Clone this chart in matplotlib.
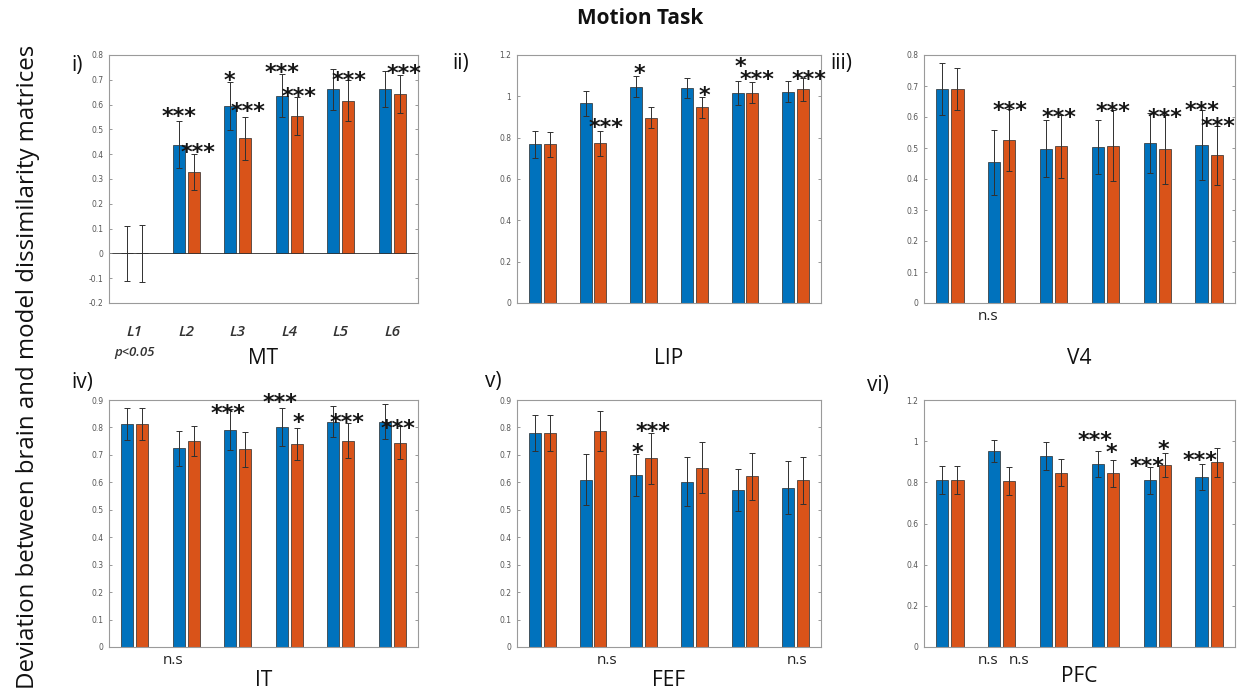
import numpy as np
import matplotlib
matplotlib.use("Agg")
import matplotlib.pyplot as plt
from matplotlib.ticker import FuncFormatter, MultipleLocator

# ---------------- data ----------------
groups = [1, 2, 3, 4, 5, 6]
mt_layers = ["L1", "L2", "L3", "L4", "L5", "L6"]

MT_blue = [0.0, 0.438, 0.595, 0.636, 0.662, 0.664]
MT_orange = [0.0, 0.329, 0.464, 0.554, 0.616, 0.642]
MT_blue_err = [0.110, 0.094, 0.098, 0.087, 0.082, 0.073]
MT_orange_err = [0.115, 0.072, 0.086, 0.076, 0.083, 0.077]

LIP_blue = [0.768, 0.966, 1.047, 1.042, 1.015, 1.023]
LIP_orange = [0.768, 0.772, 0.897, 0.946, 1.018, 1.034]
LIP_blue_err = [0.066, 0.060, 0.052, 0.049, 0.058, 0.050]
LIP_orange_err = [0.060, 0.061, 0.049, 0.050, 0.050, 0.057]

V4_blue = [0.690, 0.454, 0.498, 0.502, 0.516, 0.509]
V4_orange = [0.690, 0.526, 0.505, 0.508, 0.496, 0.476]
V4_blue_err = [0.083, 0.104, 0.093, 0.087, 0.097, 0.112]
V4_orange_err = [0.068, 0.099, 0.102, 0.115, 0.111, 0.095]

IT_blue = [0.813, 0.724, 0.791, 0.803, 0.821, 0.821]
IT_orange = [0.813, 0.752, 0.720, 0.739, 0.752, 0.745]
IT_blue_err = [0.059, 0.063, 0.075, 0.069, 0.057, 0.063]
IT_orange_err = [0.057, 0.055, 0.065, 0.058, 0.063, 0.060]

FEF_blue = [0.779, 0.609, 0.627, 0.602, 0.573, 0.581]
FEF_orange = [0.779, 0.788, 0.687, 0.654, 0.622, 0.607]
FEF_blue_err = [0.066, 0.093, 0.075, 0.089, 0.076, 0.098]
FEF_orange_err = [0.066, 0.073, 0.094, 0.094, 0.086, 0.086]

PFC_blue = [0.812, 0.953, 0.930, 0.891, 0.809, 0.825]
PFC_orange = [0.812, 0.805, 0.847, 0.843, 0.883, 0.898]
PFC_blue_err = [0.068, 0.053, 0.068, 0.063, 0.065, 0.063]
PFC_orange_err = [0.068, 0.068, 0.066, 0.066, 0.058, 0.071]

# significance marks: (text, x, y) in data coordinates
MT_marks = [("***", 1.85, 0.581), ("***", 2.23, 0.434), ("*", 2.83, 0.726),
            ("***", 3.20, 0.601), ("***", 3.86, 0.756), ("***", 4.19, 0.662),
            ("***", 5.17, 0.726), ("***", 6.22, 0.753)]
LIP_marks = [("***", 2.25, 0.881), ("*", 2.91, 1.144), ("*", 4.20, 1.039),
             ("*", 4.90, 1.176), ("***", 5.24, 1.115), ("***", 6.26, 1.115)]
V4_marks = [("***", 2.16, 0.642), ("***", 3.11, 0.620), ("***", 4.14, 0.641),
            ("***", 5.15, 0.620), ("***", 5.86, 0.644), ("***", 6.18, 0.591)]
IT_marks = [("***", 2.81, 0.875), ("***", 3.82, 0.915), ("*", 4.17, 0.842),
            ("***", 5.12, 0.842), ("***", 6.11, 0.820)]
FEF_marks = [("*", 2.88, 0.733), ("***", 3.19, 0.811)]
PFC_marks = [("***", 3.80, 1.035), ("*", 4.12, 0.977), ("***", 4.80, 0.909),
             ("*", 5.11, 0.993), ("***", 5.83, 0.938)]

V4_ns = [1.74]
IT_ns = [1.74]
FEF_ns = [2.27, 6.02]
PFC_ns = [1.74, 2.34]

# ---------------- style ----------------
BLUE = "#0072BD"
ORANGE = "#D95319"
FONT = ["Open Sans", "DejaVu Sans"]

W, H = 1248, 697
fig = plt.figure(figsize=(W / 100, H / 100), dpi=100)


def rect(l, t, r, b):
    return [l / W, 1 - b / H, (r - l) / W, (b - t) / H]


panels = [
    dict(name="MT", label="i)", pos=rect(109, 55, 418, 303), ylim=(-0.2, 0.8), step=0.1,
         b=MT_blue, o=MT_orange, be=MT_blue_err, oe=MT_orange_err, marks=MT_marks, ns=[],
         lab_xy=(77, 65), title_y=358),
    dict(name="LIP", label="ii)", pos=rect(517, 55, 821, 303), ylim=(0, 1.2), step=0.2,
         b=LIP_blue, o=LIP_orange, be=LIP_blue_err, oe=LIP_orange_err, marks=LIP_marks, ns=[],
         lab_xy=(461, 63), title_y=358),
    dict(name="V4", label="iii)", pos=rect(924, 55, 1235, 303), ylim=(0, 0.8), step=0.1,
         b=V4_blue, o=V4_orange, be=V4_blue_err, oe=V4_orange_err, marks=V4_marks, ns=V4_ns,
         lab_xy=(841, 63), title_y=358),
    dict(name="IT", label="iv)", pos=rect(109, 400, 418, 647), ylim=(0, 0.9), step=0.1,
         b=IT_blue, o=IT_orange, be=IT_blue_err, oe=IT_orange_err, marks=IT_marks, ns=IT_ns,
         lab_xy=(82, 383), title_y=681),
    dict(name="FEF", label="v)", pos=rect(517, 400, 821, 647), ylim=(0, 0.9), step=0.1,
         b=FEF_blue, o=FEF_orange, be=FEF_blue_err, oe=FEF_orange_err, marks=FEF_marks, ns=FEF_ns,
         lab_xy=(493, 382), title_y=681),
    dict(name="PFC", label="vi)", pos=rect(924, 400, 1235, 647), ylim=(0, 1.2), step=0.2,
         b=PFC_blue, o=PFC_orange, be=PFC_blue_err, oe=PFC_orange_err, marks=PFC_marks, ns=PFC_ns,
         lab_xy=(878, 385), title_y=676),
]

x = np.array(groups, dtype=float)
off = 0.145
bw = 0.235
fmt = FuncFormatter(lambda v, p: ("%g" % round(v, 2)))
STAR_FS = 16

for P in panels:
    ax = fig.add_axes(P["pos"])
    ax.bar(x - off, P["b"], bw, color=BLUE, edgecolor="#2a2a2a", linewidth=0.5, zorder=2)
    ax.bar(x + off, P["o"], bw, color=ORANGE, edgecolor="#2a2a2a", linewidth=0.5, zorder=2)
    ax.errorbar(x - off, P["b"], yerr=P["be"], fmt="none", ecolor="#303030",
                elinewidth=0.7, capsize=2, capthick=0.7, zorder=3)
    ax.errorbar(x + off, P["o"], yerr=P["oe"], fmt="none", ecolor="#303030",
                elinewidth=0.7, capsize=2, capthick=0.7, zorder=3)
    ax.axhline(0, color="#444444", lw=0.7, zorder=1)
    ax.set_xlim(0.5, 6.5)
    ax.set_ylim(*P["ylim"])
    ax.yaxis.set_major_locator(MultipleLocator(P["step"]))
    ax.yaxis.set_major_formatter(fmt)
    ax.set_xticks([])
    ax.tick_params(axis="y", direction="in", length=2.5, width=0.6, color="#888888",
                   labelsize=5.5, labelcolor="#555555", right=True, pad=4)
    for s in ax.spines.values():
        s.set_color("#9a9a9a")
        s.set_linewidth(0.8)

    for txt, mx, my in P["marks"]:
        ax.annotate(txt, (mx, my), xytext=(0, -0.6 * STAR_FS), textcoords="offset points",
                    ha="center", va="baseline", fontsize=STAR_FS, fontweight="bold",
                    color="#151515", family="DejaVu Sans", annotation_clip=False, zorder=5)
    for nx in P["ns"]:
        ax.text(nx, P["ylim"][0] - 0.055 * (P["ylim"][1] - P["ylim"][0]), "n.s",
                ha="center", va="center", fontsize=11, family=FONT, color="#222222")

    l, b, w, h = P["pos"]
    fig.text(l + w / 2, 1 - P["title_y"] / H, P["name"], ha="center", va="center",
             fontsize=15, family=FONT, color="#111111")
    fig.text(P["lab_xy"][0] / W, 1 - P["lab_xy"][1] / H, P["label"], ha="center", va="center",
             fontsize=15, family=FONT, color="#111111")

    if P["name"] == "MT":
        for gx, lab in zip(groups, mt_layers):
            ax.text(gx, -0.317, lab, ha="center", va="center", fontsize=11,
                    style="italic", fontweight="semibold", family=FONT, color="#333333")
        ax.text(1, -0.40, "p<0.05", ha="center", va="center", fontsize=9.5,
                style="italic", fontweight="semibold", family=FONT, color="#333333")

fig.text(640 / W, 1 - 18 / H, "Motion Task", ha="center", va="center",
         fontsize=15, fontweight="bold", family=FONT, color="#111111")
fig.text(28 / W, 1 - 367 / H, "Deviation between brain and model dissimilarity matrices",
         rotation=90, ha="center", va="center", fontsize=17.3, family=FONT, color="#111111")

fig.savefig("out.png", dpi=100)
